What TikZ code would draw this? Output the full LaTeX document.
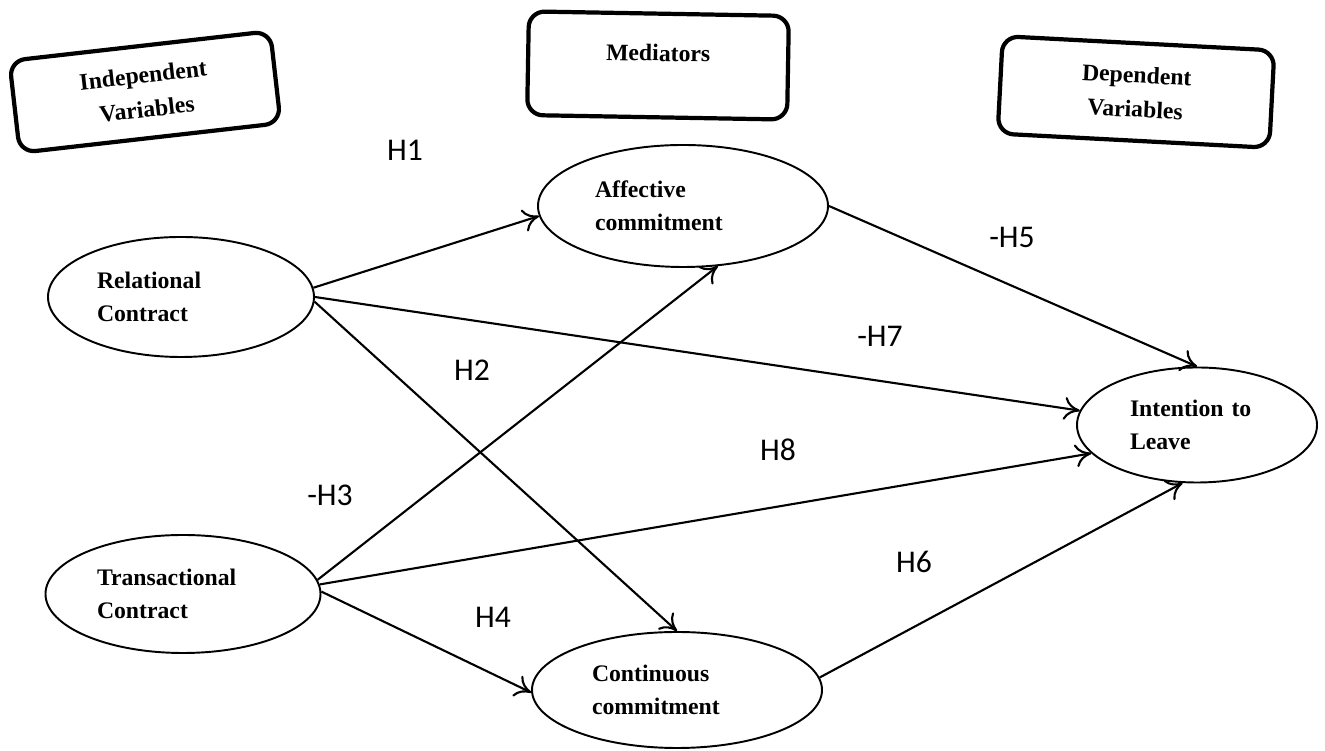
\documentclass[tikz,border=0pt]{standalone}
\usepackage{fontspec}
\setmainfont{Liberation Serif}
\newfontfamily\hypfont{Carlito}
\usetikzlibrary{positioning,shapes.geometric,arrows.meta}

\begin{document}
\begin{tikzpicture}[
		varbox/.style={draw, line width=2.4pt, rounded corners=9pt, minimum width=5.25cm, minimum height=1.85cm, align=center, font=\fontsize{13.5}{19.5}\selectfont\bfseries},
		construct/.style={draw, ellipse, line width=1.1pt, align=left, inner sep=2pt, font=\fontsize{13.5}{18.5}\selectfont\bfseries},
		hyp/.style={font=\hypfont\fontsize{18}{20}\selectfont},
		link/.style={-{To[length=9pt,width=13pt]}, line width=1.2pt}
	]
		\useasboundingbox (0,0) rectangle (26.5,15.02);
		% column headings
		\node (ind) at (2.90,13.18) [varbox, rotate=6.5]{Independent\\Variables};
		\node (med) at (13.16,13.71) [varbox, rotate=-1, minimum width=5.2cm, inner ysep=0pt, text height=27pt, text depth=32pt]{Mediators};
		\node (dep) at (22.72,13.18) [varbox, rotate=-3, minimum width=5.44cm, minimum height=1.95cm]{Dependent\\Variables};
		% constructs
		\node (rc) at (3.62,9.08) [construct, minimum width=5.32cm, minimum height=2.4cm, text width=3.36cm]{Relational\\Contract};
		\node (tc) at (3.66,3.14) [construct, minimum width=5.5cm, minimum height=2.36cm, text width=3.44cm]{Transactional\\Contract};
		\node (ac) at (13.66,10.90) [construct, minimum width=5.8cm, minimum height=2.44cm, text width=3.52cm]{Affective\\commitment};
		\node (cc) at (13.54,1.22) [construct, minimum width=5.8cm, minimum height=2.32cm, text width=3.4cm]{Continuous\\commitment};
		\node (il) at (23.94,6.52) [construct, minimum width=4.8cm, minimum height=2.3cm, text width=2.68cm]{Intention to\\Leave};
		% hypotheses
		\foreach \s/\t in {rc.4/ac.184, rc.east/il.173, rc.-2/cc.north, tc.6/ac.-60, tc.4/il.195, tc.1/cc.181, ac.east/il.north, cc.5/il.256}
		\draw [link] (\s)--(\t);
		\node (h1) at (8.10,12.02) [hyp]{H1};
		\node (h2) at (9.44,7.62) [hyp]{H2};
		\node (h3) at (6.60,5.12) [hyp]{-H3};
		\node (h4) at (9.86,2.68) [hyp]{H4};
		\node (h5) at (20.24,10.28) [hyp]{-H5};
		\node (h6) at (18.28,3.78) [hyp]{H6};
		\node (h7) at (17.60,8.30) [hyp]{-H7};
		\node (h8) at (15.56,6.02) [hyp]{H8};
		
	\end{tikzpicture}
\end{document}
